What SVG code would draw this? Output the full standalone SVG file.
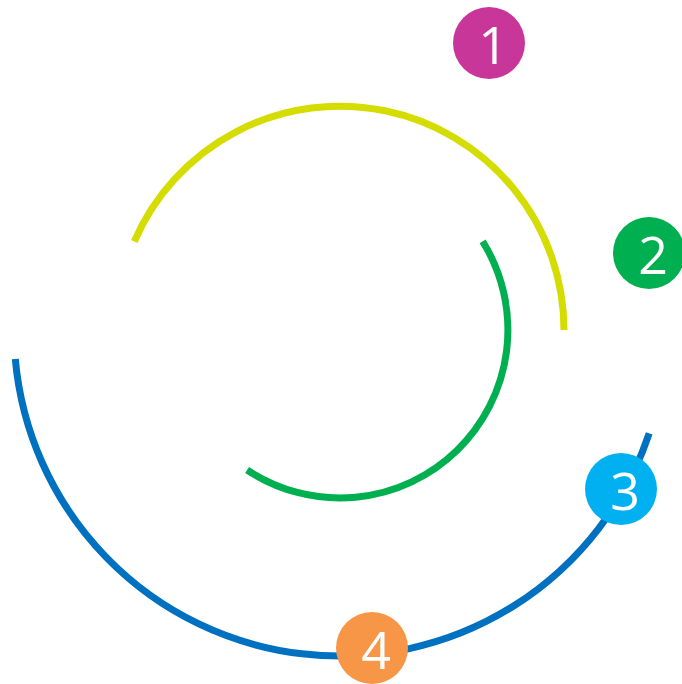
<svg xmlns="http://www.w3.org/2000/svg" width="682" height="684" viewBox="0 0 682 684">
<style>
.arc{fill:none;stroke-width:7;stroke-linecap:butt}
.num{font-family:"Open Sans","Liberation Sans",sans-serif;font-size:52px;fill:#fff;text-anchor:middle}
</style>
<rect width="682" height="684" fill="#fff"/>
<g id="connectors">
<path class="arc" stroke="#D4DC00" d="M134.3 241.5 A224 224 0 0 1 564 330"/>
<path class="arc" stroke="#00B050" d="M482.6 241.3 A168 168 0 0 1 247.1 470"/>
<path class="arc" stroke="#0070C0" d="M649.2 433.4 A326 326 0 0 1 15.3 359"/>
</g>
<g id="node1"><circle cx="489" cy="43" r="36" fill="#C8369A"/><text class="num" x="493" y="64">1</text></g>
<g id="node2"><circle cx="649" cy="253" r="36" fill="#00B050"/><text class="num" x="653" y="274">2</text></g>
<g id="node3"><circle cx="621" cy="489" r="36" fill="#00B0F0"/><text class="num" x="625" y="510">3</text></g>
<g id="node4"><circle cx="372" cy="648" r="36" fill="#F79646"/><text class="num" x="376" y="669">4</text></g>
</svg>
